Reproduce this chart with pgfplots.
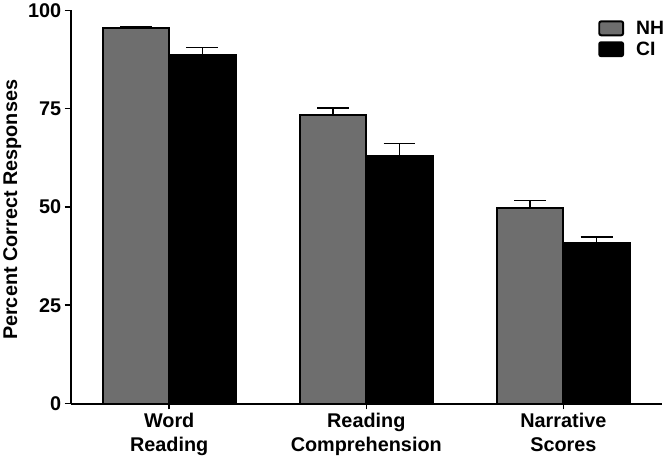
\documentclass[border=0pt]{standalone}
\usepackage{fontspec}
\setmainfont{Liberation Sans}
\usepackage{pgfplots}
\pgfplotsset{compat=1.18}
\definecolor{nhgray}{HTML}{6E6E6E}
\begin{document}
\begin{tikzpicture}
\begin{axis}[
 scale only axis, width=594bp, height=395bp,
 xmin=-0.5, xmax=2.5, ymin=0, ymax=100,
 axis x line*=bottom, axis y line*=left,
 axis line style={line width=2bp, -},
 ytick={0,25,50,75,100},
 xtick={0,1,2},
 xticklabels={Word\\Reading, Reading\\Comprehension, Narrative\\Scores},
 tick style={line width=1.5bp, black},
 major tick length=6bp,
 tick align=outside,
 ticklabel style={font=\fontsize{20}{24}\selectfont\bfseries},
 xticklabel style={align=center},
 /pgf/number format/assume math mode=true,
 ylabel={Percent Correct Responses},
 ylabel style={font=\fontsize{20}{24}\selectfont\bfseries, xshift=-3bp},
 ybar=0pt, bar width=0.337,
 legend style={at={(0.892,0.975)}, anchor=north west, draw=none, fill=none,
   font=\fontsize{19.5}{23}\selectfont\bfseries, inner sep=0pt, row sep=5bp,
   nodes={inner sep=0pt}},
 legend cell align=left,
]
\addplot[fill=nhgray, draw=black, line width=2bp,
  legend image code/.code={\draw[fill=nhgray, draw=black, line width=2bp, rounded corners=2bp] (0bp,-7bp) rectangle (24bp,7bp); \path (36bp,0bp);},
  error bars/.cd, y dir=plus, y explicit,
  error bar style={line width=1.5bp, black},
  error mark options={rotate=90, line width=1.5bp, black, mark size=16bp}]
 coordinates {(0,95.6) +- (0,0.3) (1,73.5) +- (0,1.7) (2,49.7) +- (0,1.9)};
\addplot[fill=black, draw=black, line width=2bp,
  legend image code/.code={\draw[fill=black, draw=black, line width=2bp, rounded corners=2bp] (0bp,-7bp) rectangle (24bp,7bp); \path (36bp,0bp);},
  error bars/.cd, y dir=plus, y explicit,
  error bar style={line width=1.5bp, black},
  error mark options={rotate=90, line width=1.5bp, black, mark size=16bp}]
 coordinates {(0,88.7) +- (0,1.9) (1,63.0) +- (0,3.1) (2,40.8) +- (0,1.6)};
\legend{NH, CI}
\end{axis}
\end{tikzpicture}
\end{document}
